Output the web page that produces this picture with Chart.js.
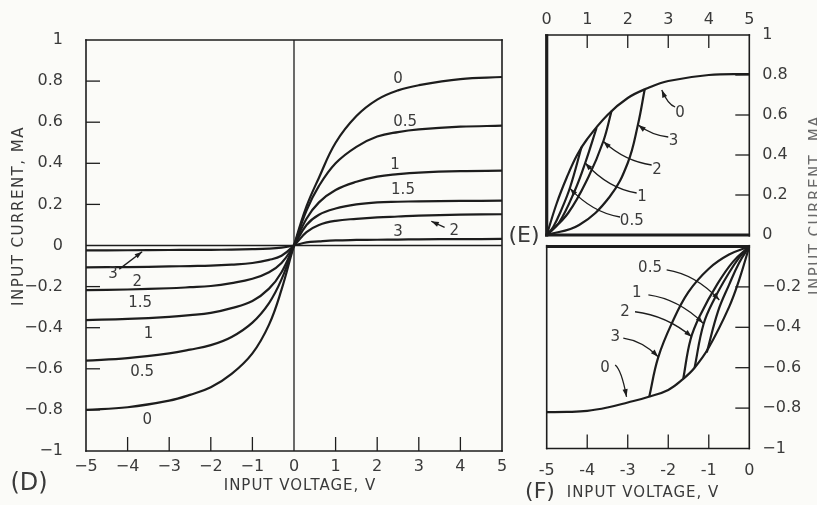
<!DOCTYPE html>
<html>
<head>
<meta charset="utf-8">
<script src="https://cdn.jsdelivr.net/npm/chart.js@4.4.1/dist/chart.umd.min.js"></script>
<style>
  html, body { margin: 0; padding: 0; background: #fbfbf8; }
  #wrap { position: relative; width: 817px; height: 505px; overflow: hidden; }
  #wrap canvas { position: absolute; left: 0; top: 0; }
</style>
</head>
<body>
<div id="wrap">
  <canvas id="chartD" width="817" height="505"></canvas>
  <canvas id="chartE" width="817" height="505"></canvas>
  <canvas id="chartF" width="817" height="505"></canvas>
</div>
<script>
// ---------- data ----------
// (D) input current (mA) vs input voltage (V), one curve per parameter
dParams  = ['0', '0.5', '1', '1.5', '2', '3'];
dVolts   = [-5, -4, -3, -2.5, -2, -1.5, -1, -0.6, -0.3, 0, 0.3, 0.6, 1, 1.5, 2, 2.5, 3, 4, 5];
dCurve0  = [-0.80, -0.787, -0.755, -0.727, -0.69, -0.625, -0.525, -0.385, -0.215, 0, 0.19, 0.33, 0.50, 0.63, 0.71, 0.755, 0.78, 0.81, 0.82];
dCurve05 = [-0.56, -0.548, -0.525, -0.507, -0.485, -0.445, -0.375, -0.28, -0.165, 0, 0.17, 0.29, 0.40, 0.48, 0.53, 0.552, 0.565, 0.578, 0.583];
dCurve1  = [-0.363, -0.357, -0.347, -0.339, -0.328, -0.305, -0.27, -0.21, -0.13, 0, 0.13, 0.21, 0.27, 0.31, 0.335, 0.347, 0.355, 0.362, 0.364];
dCurve15 = [-0.217, -0.214, -0.208, -0.203, -0.197, -0.183, -0.162, -0.13, -0.085, 0, 0.10, 0.15, 0.18, 0.20, 0.21, 0.213, 0.215, 0.217, 0.218];
dCurve2  = [-0.106, -0.105, -0.102, -0.10, -0.098, -0.093, -0.085, -0.07, -0.05, 0, 0.065, 0.10, 0.12, 0.13, 0.137, 0.141, 0.145, 0.15, 0.152];
dCurve3  = [-0.024, -0.023, -0.022, -0.0215, -0.021, -0.02, -0.018, -0.015, -0.01, 0, 0.015, 0.02, 0.025, 0.027, 0.028, 0.029, 0.03, 0.031, 0.032];
dSeries  = [dCurve0, dCurve05, dCurve1, dCurve15, dCurve2, dCurve3];

// (E) positive half: envelope "0" plus the return branch of each loop
eEnvX    = [0, 0.25, 0.5, 0.75, 1, 1.5, 2, 2.5, 3, 4, 5];
eEnvY    = [0, 0.16, 0.29, 0.40, 0.48, 0.60, 0.685, 0.735, 0.77, 0.80, 0.805];
eLoop3X  = [0, 0.8, 1.55, 2.0, 2.25, 2.42];
eLoop3Y  = [0, 0.05, 0.19, 0.36, 0.55, 0.73];
eLoop2X  = [0, 0.53, 1.03, 1.4, 1.6];
eLoop2Y  = [0, 0.11, 0.29, 0.47, 0.62];
eLoop1X  = [0, 0.3, 0.7, 0.95, 1.23];
eLoop1Y  = [0, 0.06, 0.225, 0.36, 0.535];
eLoop05X = [0, 0.16, 0.35, 0.58, 0.86];
eLoop05Y = [0, 0.04, 0.12, 0.24, 0.44];

// (F) negative half
fEnvX    = [-5, -4.5, -4, -3.5, -3, -2.5, -2, -1.63, -1.35, -1, -0.5, -0.25, 0];
fEnvY    = [-0.82, -0.819, -0.814, -0.797, -0.772, -0.745, -0.71, -0.655, -0.60, -0.50, -0.30, -0.165, 0];
fLoop3X  = [-2.47, -2.25, -1.9, -1.5, -1.0, -0.5, 0];
fLoop3Y  = [-0.745, -0.55, -0.375, -0.225, -0.11, -0.04, 0];
fLoop2X  = [-1.63, -1.45, -1.2, -0.8, -0.4, 0];
fLoop2Y  = [-0.655, -0.46, -0.335, -0.19, -0.075, 0];
fLoop1X  = [-1.35, -1.13, -0.85, -0.5, -0.25, 0];
fLoop1Y  = [-0.60, -0.385, -0.255, -0.13, -0.055, 0];
fLoop05X = [-1.05, -0.77, -0.5, -0.25, 0];
fLoop05Y = [-0.525, -0.32, -0.19, -0.08, 0];

// inward tick marks
dTicksX = [-4, -3, -2, -1, 1, 2, 3, 4];
dTicksY = [-0.8, -0.6, -0.4, -0.2, 0.2, 0.4, 0.6, 0.8];
eTicksX = [1, 2, 3, 4];
eTicksY = [0.2, 0.4, 0.6, 0.8];
fTicksX = [-4, -3, -2, -1];
fTicksY = [-0.8, -0.6, -0.4, -0.2];

// curve labels [text, x, y] in data units
dLabels = [['0', 2.5, 0.81], ['0.5', 2.67, 0.60], ['1', 2.43, 0.39], ['1.5', 2.62, 0.27],
           ['3', 2.5, 0.066], ['2', 3.85, 0.07],
           ['3', -4.35, -0.14], ['2', -3.77, -0.18], ['1.5', -3.7, -0.28], ['1', -3.5, -0.43],
           ['0.5', -3.65, -0.615], ['0', -3.53, -0.85]];
eLabels = [['0', 3.29, 0.61], ['3', 3.13, 0.467], ['2', 2.72, 0.325], ['1', 2.35, 0.19], ['0.5', 2.1, 0.067]];
fLabels = [['0.5', -2.45, -0.108], ['1', -2.78, -0.232], ['2', -3.07, -0.323], ['3', -3.31, -0.447], ['0', -3.56, -0.603]];

// leader arrows [fromX, fromY, toX, toY]
dArrows = [[3.62, 0.088, 3.3, 0.118], [-4.2, -0.115, -3.65, -0.03]];
eArrows = [[3.17, 0.64, 2.84, 0.725], [3.0, 0.49, 2.26, 0.55], [2.59, 0.35, 1.40, 0.467],
           [2.22, 0.21, 0.95, 0.36], [1.81, 0.09, 0.575, 0.233]];
fArrows = [[-2.04, -0.116, -0.74, -0.265], [-2.49, -0.24, -1.14, -0.38], [-2.82, -0.323, -1.42, -0.447],
           [-3.11, -0.454, -2.25, -0.546], [-3.31, -0.587, -3.03, -0.744]];

// ---------- drawing ----------
INK = '#1d1d1d';
TXT = '#3a3a3a';
FAM = '"DejaVu Sans", sans-serif';

function pts(xs, ys) { return xs.map((x, i) => ({x: x, y: ys[i]})); }

function curve(data) {
  return { data: data, borderColor: INK, borderWidth: 2.2, pointRadius: 0,
           fill: false, tension: 0.4 };
}

function fmt(v, minus) {
  const r = Math.round(v * 10) / 10;
  if (Math.abs(r) < 1e-9) return '0';
  return (r < 0 ? minus : '') + String(Math.abs(r));
}

function seg(ctx, x1, y1, x2, y2, w) {
  ctx.lineWidth = w;
  ctx.beginPath(); ctx.moveTo(x1, y1); ctx.lineTo(x2, y2); ctx.stroke();
}

function head(ctx, tx, ty, fx, fy) {
  const a = Math.atan2(ty - fy, tx - fx), len = 8;
  ctx.beginPath();
  ctx.moveTo(tx, ty);
  ctx.lineTo(tx - len * Math.cos(a - 0.33), ty - len * Math.sin(a - 0.33));
  ctx.lineTo(tx - len * Math.cos(a + 0.33), ty - len * Math.sin(a + 0.33));
  ctx.closePath(); ctx.fill();
}

function text(ctx, t, x, y, size, rot, spacing) {
  ctx.save();
  ctx.font = size + 'px ' + FAM;
  ctx.letterSpacing = (spacing || 0) + 'px';
  ctx.textAlign = 'center'; ctx.textBaseline = 'middle';
  ctx.translate(x, y);
  if (rot) ctx.rotate(rot);
  ctx.fillText(t, 0, 0);
  ctx.restore();
}

function frame(spec) {
  return {
    id: 'frame',
    afterDatasetsDraw(chart) {
      const ctx = chart.ctx, a = chart.chartArea, sx = chart.scales.x, sy = chart.scales.y;
      ctx.save();
      ctx.strokeStyle = INK; ctx.fillStyle = INK;
      const e = spec.edges;
      seg(ctx, a.left, a.top - e.top / 2, a.left, a.bottom + e.bottom / 2, e.left);
      seg(ctx, a.right, a.top - e.top / 2, a.right, a.bottom + e.bottom / 2, e.right);
      seg(ctx, a.left - e.left / 2, a.top, a.right + e.right / 2, a.top, e.top);
      seg(ctx, a.left - e.left / 2, a.bottom, a.right + e.right / 2, a.bottom, e.bottom);
      if (spec.zero) {
        const x0 = sx.getPixelForValue(0), y0 = sy.getPixelForValue(0);
        seg(ctx, x0, a.top, x0, a.bottom, 1.3);
        seg(ctx, a.left, y0, a.right, y0, 1.3);
      }
      spec.ticksX.forEach(v => {
        const p = sx.getPixelForValue(v);
        if (spec.tickXTop) seg(ctx, p, a.top, p, a.top + 13, 1.3);
        else seg(ctx, p, a.bottom, p, a.bottom - 14, 1.3);
      });
      spec.ticksY.forEach(v => {
        const p = sy.getPixelForValue(v);
        if (spec.tickYRight) seg(ctx, a.right, p, a.right - 14, p, 1.3);
        else seg(ctx, a.left, p, a.left + 14, p, 1.3);
      });
      // leader arrows
      spec.arrows.forEach(r => {
        const fx = sx.getPixelForValue(r[0]), fy = sy.getPixelForValue(r[1]);
        const tx = sx.getPixelForValue(r[2]), ty = sy.getPixelForValue(r[3]);
        ctx.lineWidth = 1.3;
        ctx.beginPath(); ctx.moveTo(fx, fy);
        let cx = fx, cy = fy;
        if (spec.bend === 'up') {        // tail lower right, tip upper left
          cx = tx + 0.45 * (fx - tx); cy = ty + 0.85 * (fy - ty);
          ctx.quadraticCurveTo(cx, cy, tx, ty);
        } else if (spec.bend === 'down') { // tail upper left, tip lower right
          cx = tx - 0.45 * (tx - fx); cy = fy + 0.15 * (ty - fy);
          ctx.quadraticCurveTo(cx, cy, tx, ty);
        } else {
          ctx.lineTo(tx, ty);
        }
        ctx.stroke();
        head(ctx, tx, ty, cx, cy);
      });
      ctx.fillStyle = TXT;
      spec.labels.forEach(l => text(ctx, l[0], sx.getPixelForValue(l[1]), sy.getPixelForValue(l[2]), 15));
      spec.texts.forEach(t => {
        ctx.fillStyle = t[6] || TXT;
        text(ctx, t[0], t[1], t[2], t[3], t[4], t[5]);
      });
      ctx.restore();
    }
  };
}

function tickStyle(extra) {
  return Object.assign({ color: TXT, font: { family: FAM, size: 16 }, maxRotation: 0, autoSkip: false }, extra);
}
const noGrid = { display: false, drawTicks: false, tickLength: 0 };

function baseOptions(padding, scales) {
  return {
    responsive: false, animation: false, events: [],
    layout: { padding: padding },
    plugins: { legend: { display: false }, tooltip: { enabled: false } },
    scales: scales
  };
}

// (D)
new Chart(document.getElementById('chartD'), {
  type: 'line',
  data: { datasets: dSeries.map(s => curve(pts(dVolts, s))) },
  options: baseOptions({ left: 0, right: 315, top: 40, bottom: 0 }, {
    x: { type: 'linear', min: -5, max: 5, grid: noGrid, border: { display: false },
         afterFit: s => { s.height = 54; },
         ticks: tickStyle({ stepSize: 1, padding: 6, callback: v => fmt(v, '\u2212') }) },
    y: { type: 'linear', min: -1, max: 1, grid: noGrid, border: { display: false },
         afterFit: s => { s.width = 86; },
         ticks: tickStyle({ stepSize: 0.2, padding: 23, callback: v => fmt(v, '\u2212') }) }
  }),
  plugins: [frame({
    edges: { left: 1.6, right: 1.6, top: 1.6, bottom: 1.6 }, zero: true,
    ticksX: dTicksX, ticksY: dTicksY, arrows: dArrows, labels: dLabels,
    texts: [['INPUT CURRENT, MA', 19, 216, 15, -Math.PI / 2, 1.5],
            ['INPUT VOLTAGE, V', 300, 486, 15, 0, 1],
            ['(D)', 29, 484, 24, 0, 0]]
  })]
});

// (E)
new Chart(document.getElementById('chartE'), {
  type: 'line',
  data: { datasets: [curve(pts(eEnvX, eEnvY)), curve(pts(eLoop3X, eLoop3Y)), curve(pts(eLoop2X, eLoop2Y)),
                     curve(pts(eLoop1X, eLoop1Y)), curve(pts(eLoop05X, eLoop05Y))] },
  options: baseOptions({ left: 546.7, right: 7.7, top: 0, bottom: 270 }, {
    x: { type: 'linear', position: 'top', min: 0, max: 5, grid: noGrid, border: { display: false },
         afterFit: s => { s.height = 35; },
         ticks: tickStyle({ stepSize: 1, padding: 6, callback: v => fmt(v, '-') }) },
    y: { type: 'linear', position: 'right', min: 0, max: 1, grid: noGrid, border: { display: false },
         afterFit: s => { s.width = 60; },
         ticks: tickStyle({ stepSize: 0.2, padding: 13, callback: v => fmt(v, '\u2212') }) }
  }),
  plugins: [frame({
    edges: { left: 3.2, right: 1.6, top: 1.6, bottom: 3.2 }, zero: false, tickXTop: true, tickYRight: true,
    ticksX: eTicksX, ticksY: eTicksY, arrows: eArrows, labels: eLabels, bend: 'up',
    texts: [['(E)', 524, 236, 22, 0, 0],
            ['INPUT CURRENT, MA', 816, 205, 15, -Math.PI / 2, 1.5, '#6a6a6a']]
  })]
});

// (F)
new Chart(document.getElementById('chartF'), {
  type: 'line',
  data: { datasets: [curve(pts(fEnvX, fEnvY)), curve(pts(fLoop3X, fLoop3Y)), curve(pts(fLoop2X, fLoop2Y)),
                     curve(pts(fLoop1X, fLoop1Y)), curve(pts(fLoop05X, fLoop05Y))] },
  options: baseOptions({ left: 546.7, right: 7.7, top: 246.5, bottom: 16.5 }, {
    x: { type: 'linear', min: -5, max: 0, grid: noGrid, border: { display: false },
         afterFit: s => { s.height = 40; },
         ticks: tickStyle({ stepSize: 1, padding: 13, callback: v => fmt(v, '-') }) },
    y: { type: 'linear', position: 'right', min: -1, max: 0, grid: noGrid, border: { display: false },
         afterFit: s => { s.width = 60; },
         ticks: tickStyle({ stepSize: 0.2, padding: 13, callback: v => (Math.abs(v) < 1e-9 ? '' : fmt(v, '\u2212')) }) }
  }),
  plugins: [frame({
    edges: { left: 1.6, right: 1.6, top: 3.2, bottom: 1.6 }, zero: false, tickXTop: false, tickYRight: true,
    ticksX: fTicksX, ticksY: fTicksY, arrows: fArrows, labels: fLabels, bend: 'down',
    texts: [['(F)', 540, 492, 22, 0, 0],
            ['INPUT VOLTAGE, V', 643, 493, 15, 0, 1]]
  })]
});
</script>
</body>
</html>
